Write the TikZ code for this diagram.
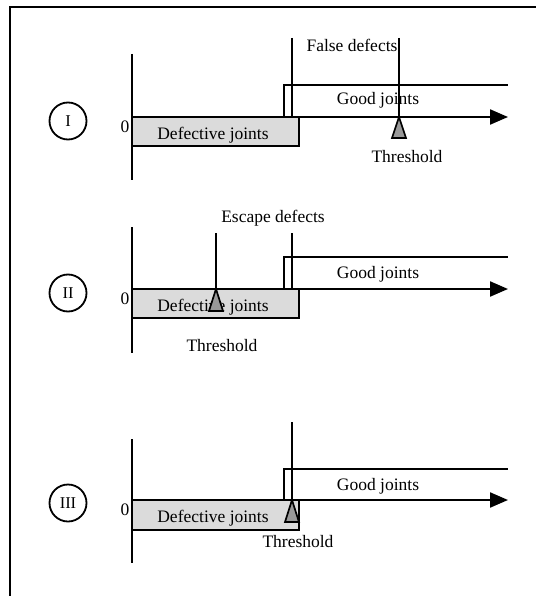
\documentclass[tikz,border=0pt]{standalone}
\usepackage{fontspec}
\setmainfont{Liberation Serif}
\usetikzlibrary{arrows.meta}
\definecolor{boxgray}{gray}{0.86}
\definecolor{tipgray}{gray}{0.6}

\begin{document}
\begin{tikzpicture}[x=1pt, y=-1pt, every node/.style={font=\fontsize{17.5}{20}\selectfont, inner sep=0pt},
  axisline/.style={line width=2.2pt},
  lline/.style={line width=1.7pt},
  case/.style={draw, circle, line width=1.8pt, minimum size=37pt, font=\fontsize{16.5}{19}\selectfont},
  arrowline/.style={axisline, -{Triangle[length=18pt,width=15pt]}},
  tipmark/.style={lline, fill=tipgray}]
\useasboundingbox (0,0) rectangle (536,596);
% frame
\draw[line width=2.2pt] (10,596) -- (10,7) -- (536,7);
% case I
\node[case] (c1) at (68,121) {I};
\node (z1) at (125,127) {0};
\draw[axisline] (132,54) -- (132,180);
\draw[axisline, fill=boxgray] (132,117) rectangle (299,146);
\node (d1) at (213,135) {Defective joints};
\draw[lline] (284,117) -- (284,85) -- (508,85);
\draw[arrowline] (132,117) -- (508,117);
\draw[lline] (292,38) -- (292,117);
\node (f1) at (352,45) {False defects};
\draw[lline] (399,38) -- (399,117);
\draw[tipmark] (399,117) -- (406,138) -- (392,138) -- cycle;
\node (t1) at (407,157) {Threshold};
\node (g1) at (378,100) {Good joints};
% case II
\node[case] (c2) at (68,293) {II};
\node (z2) at (125,299) {0};
\draw[axisline] (132,227) -- (132,353);
\draw[axisline, fill=boxgray] (132,289) rectangle (299,318);
\node (d2) at (213,307) {Defective joints};
\draw[lline] (284,289) -- (284,257) -- (508,257);
\draw[arrowline] (132,289) -- (508,289);
\draw[lline] (292,233) -- (292,289);
\node (e2) at (273,218) {Escape defects};
\draw[lline] (216,233) -- (216,289);
\draw[tipmark] (216,289) -- (223,311) -- (209,311) -- cycle;
\node (t2) at (222,346) {Threshold};
\node (g2) at (378,274) {Good joints};
% case III
\node[case] (c3) at (68,503) {III};
\node (z3) at (125,510) {0};
\draw[axisline] (132,439) -- (132,563);
\draw[axisline, fill=boxgray] (132,500) rectangle (299,530);
\node (d3) at (213,518) {Defective joints};
\draw[lline] (284,500) -- (284,469) -- (508,469);
\draw[arrowline] (132,500) -- (508,500);
\draw[lline] (292,422) -- (292,500);
\draw[tipmark] (292,500) -- (299,522) -- (285,522) -- cycle;
\node (t3) at (298,542) {Threshold};
\node (g3) at (378,486) {Good joints};
\end{tikzpicture}
\end{document}
